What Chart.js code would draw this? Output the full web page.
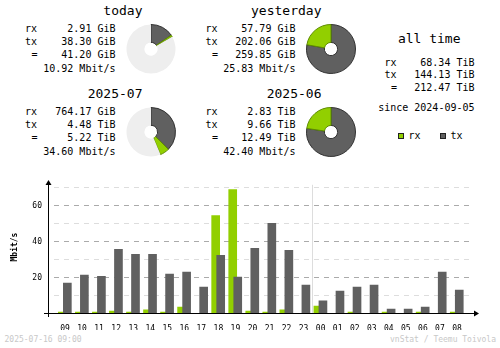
<!DOCTYPE html>
<html>
<head>
<meta charset="utf-8">
<script src="https://cdn.jsdelivr.net/npm/chart.js@4.4.1/dist/chart.umd.min.js"></script>
<style>
  body { margin: 0; background: #fff; }
  #wrap { position: relative; width: 500px; height: 348px; overflow: hidden; font-family: "DejaVu Sans Mono", monospace; color: #000; }
  .t { position: absolute; white-space: pre; font-size: 10px; line-height: 12px; }
  .title { font-size: 13px; line-height: 16px; }
  .foot { font-size: 8px; line-height: 10px; color: #c8c8c8; }
  canvas { position: absolute; }
  .key { position: absolute; width: 4px; height: 4px; border: 1px solid #222; }
</style>
</head>
<body>
<div id="wrap">
  <canvas id="hourly" width="500" height="160" style="left:0;top:170px"></canvas>
</div>
<script>
// period summaries
const periods = ['today', 'yesterday', '2025-07', '2025-06'];
const rxAmount = [2.91, 57.79, 764.17, 2.83];
const rxUnit = ['GiB', 'GiB', 'GiB', 'TiB'];
const txAmount = [38.30, 202.06, 4.48, 9.66];
const txUnit = ['GiB', 'GiB', 'TiB', 'TiB'];
const totalAmount = [41.20, 259.85, 5.22, 12.49];
const totalUnit = ['GiB', 'GiB', 'TiB', 'TiB'];
const avgRate = [10.92, 25.83, 34.60, 42.40];
// expected traffic still to come in the period (GiB), the empty part of the pie
const remaining = [206, 0, 6900, 0];

// all time, TiB
const allTime = [68.34, 144.13, 212.47];
const since = '2024-09-05';

// hourly average rate, Mbit/s
const hours = ['09', '10', '11', '12', '13', '14', '15', '16', '17', '18', '19', '20', '21', '22', '23',
               '00', '01', '02', '03', '04', '05', '06', '07', '08'];
const rxRate = [0.7, 0.7, 0.7, 1.3, 0.7, 1.9, 0.7, 3.5, 0, 54.6, 69.1, 1.3, 0.7, 1.9, 0,
                4.1, 0, 0.7, 0, 0.7, 0, 0.7, 0, 0.7];
const txRate = [16.9, 21.3, 20.7, 35.7, 33.0, 33.0, 21.9, 23.0, 14.6, 32.4, 20.2, 36.3, 50.2, 35.2, 15.7,
                6.9, 12.4, 14.6, 15.7, 2.4, 2.4, 3.5, 23.0, 13.0];
const gridSteps = [0, 10, 20, 30, 40, 50, 60, 70];

const FONT = 'DejaVu Sans Mono';
const RX = '#92cf00', TX = '#606060';
const wrap = document.getElementById('wrap');

function put(text, x, mid, cls, right) {
  const d = document.createElement('div');
  d.className = 't ' + (cls || '');
  d.textContent = text;
  wrap.appendChild(d);
  const lh = cls === 'title' ? 16 : (cls === 'foot' ? 10 : 12);
  d.style.top = (mid - lh / 2) + 'px';
  if (right) d.style.right = (500 - x) + 'px';
  else d.style.left = x + 'px';
}

function amount(v, u) {
  return v.toFixed(2) + ' ' + u;
}

function toGiB(v, u) {
  return u === 'TiB' ? v * 1024 : v;
}

const boxes = [
  { x: 25, right: 115.5, titleRight: 142.5, top: 0, pieX: 150.5, pieY: 49 },
  { x: 205.5, right: 295.5, titleRight: 321.5, top: 0, pieX: 330.5, pieY: 49 },
  { x: 25, right: 115.5, titleRight: 142.5, top: 83, pieX: 150.5, pieY: 132 },
  { x: 205.5, right: 295.5, titleRight: 321.5, top: 83, pieX: 330.5, pieY: 132 }
];

periods.forEach((p, i) => {
  const b = boxes[i];
  put(p, b.titleRight, b.top + 10.5, 'title', true);
  put('rx', b.x, b.top + 29.3);
  put(amount(rxAmount[i], rxUnit[i]), b.right, b.top + 29.3, '', true);
  put('tx', b.x, b.top + 41.5);
  put(amount(txAmount[i], txUnit[i]), b.right, b.top + 41.5, '', true);
  put('=', b.x + 6.5, b.top + 55);
  put(amount(totalAmount[i], totalUnit[i]), b.right, b.top + 55, '', true);
  put(avgRate[i].toFixed(2) + ' Mbit/s', b.right, b.top + 69, '', true);

  const cv = document.createElement('canvas');
  cv.width = 50;
  cv.height = 50;
  cv.style.left = (b.pieX - 25) + 'px';
  cv.style.top = (b.pieY - 25) + 'px';
  wrap.appendChild(cv);
  new Chart(cv, {
    type: 'doughnut',
    data: {
      labels: ['tx', 'rx', ''],
      datasets: [{
        data: [toGiB(txAmount[i], txUnit[i]), toGiB(rxAmount[i], rxUnit[i]), remaining[i]],
        backgroundColor: [TX, RX, '#eeeeee'],
        borderColor: ['#333333', '#5f8c00', '#eeeeee'],
        borderWidth: [1, 1, 0]
      }]
    },
    options: {
      responsive: false,
      animation: false,
      events: [],
      cutout: '27%',
      plugins: { legend: { display: false }, tooltip: { enabled: false } }
    }
  });
});

// all time block
put('all time', 460.5, 39, 'title', true);
put('rx', 384.5, 62.5);
put(amount(allTime[0], 'TiB'), 474.5, 62.5, '', true);
put('tx', 384.5, 74.5);
put(amount(allTime[1], 'TiB'), 474.5, 74.5, '', true);
put('=', 391, 88);
put(amount(allTime[2], 'TiB'), 474.5, 88, '', true);
put('since ' + since, 474.5, 108, '', true);

// legend
function key(x, color) {
  const k = document.createElement('div');
  k.className = 'key';
  k.style.left = x + 'px';
  k.style.top = '133px';
  k.style.background = color;
  wrap.appendChild(k);
}
key(398, RX);
put('rx', 408.5, 136);
key(440, TX);
put('tx', 450.5, 136);

put('2025-07-16 09:00', 4.5, 340, 'foot');
put('vnStat / Teemu Toivola', 496, 340, 'foot', true);

// axis lines with arrow heads, day change marker
const axisLines = {
  id: 'axisLines',
  beforeDatasetsDraw(chart) {
    const { ctx, chartArea, scales } = chart;
    const x = Math.round(scales.x.getPixelForValue(hours.indexOf('00') - 0.5)) + 0.5;
    ctx.save();
    ctx.strokeStyle = '#dddddd';
    ctx.lineWidth = 1;
    ctx.beginPath();
    ctx.moveTo(x, chartArea.top + 4);
    ctx.lineTo(x, chartArea.bottom);
    ctx.stroke();
    ctx.restore();
  },
  afterDatasetsDraw(chart) {
    const { ctx, chartArea, scales } = chart;
    const left = Math.round(chartArea.left);
    const base = Math.round(scales.y.getPixelForValue(0));
    const top = Math.round(chartArea.top);
    const end = Math.round(chartArea.right) + 4;
    ctx.save();
    ctx.fillStyle = '#000';
    ctx.fillRect(left, top, 1, base - top + 4);
    ctx.fillRect(left - 4, base, end - left + 4, 1);
    ctx.beginPath();
    ctx.moveTo(left - 2.5, top + 4);
    ctx.lineTo(left + 3.5, top + 4);
    ctx.lineTo(left + 0.5, top - 1);
    ctx.closePath();
    ctx.fill();
    ctx.beginPath();
    ctx.moveTo(end - 4, base - 2.5);
    ctx.lineTo(end - 4, base + 3.5);
    ctx.lineTo(end + 1, base + 0.5);
    ctx.closePath();
    ctx.fill();
    ctx.restore();
  }
};

new Chart(document.getElementById('hourly'), {
  type: 'bar',
  data: {
    datasets: [
      { label: 'tx', data: txRate.map((v, i) => ({ x: i + 0.135, y: v })), backgroundColor: TX, order: 0 },
      { label: 'rx', data: rxRate.map((v, i) => ({ x: i - 0.16, y: v })), backgroundColor: RX, order: 1 }
    ]
  },
  options: {
    responsive: false,
    animation: false,
    events: [],
    layout: { padding: { top: 10, right: 26, left: 0, bottom: 0 } },
    datasets: { bar: { grouped: false, barThickness: 8 } },
    plugins: { legend: { display: false }, tooltip: { enabled: false } },
    scales: {
      x: {
        type: 'linear',
        min: -1,
        max: 24,
        offset: false,
        grid: { display: false, offset: false },
        border: { display: false },
        afterBuildTicks: s => { s.ticks = hours.map((h, i) => ({ value: i })); },
        afterFit: s => { s.height = 16.7; },
        ticks: {
          callback: v => hours[v],
          color: '#000',
          font: { family: FONT, size: 8 },
          padding: 3,
          maxRotation: 0,
          autoSkip: false
        }
      },
      y: {
        min: 0,
        max: 74,
        afterBuildTicks: s => { s.ticks = gridSteps.map(v => ({ value: v })); },
        afterFit: s => { s.width = 48; },
        grid: {
          drawTicks: false,
          color: c => c.tick.value === 0 ? 'rgba(0,0,0,0)' : (c.tick.value % 20 === 0 ? '#aaaaaa' : '#dddddd')
        },
        border: { display: false, dash: [5, 5], dashOffset: 4 },
        ticks: {
          padding: 6,
          color: '#000',
          font: { family: FONT, size: 8 },
          callback: v => (v % 20 === 0 && v > 0) ? String(v) : ''
        },
        title: {
          display: true,
          text: 'Mbit/s',
          color: '#000',
          font: { family: FONT, size: 8, weight: 'bold' },
          padding: { top: 10 }
        }
      }
    }
  },
  plugins: [axisLines]
});
</script>
</body>
</html>
